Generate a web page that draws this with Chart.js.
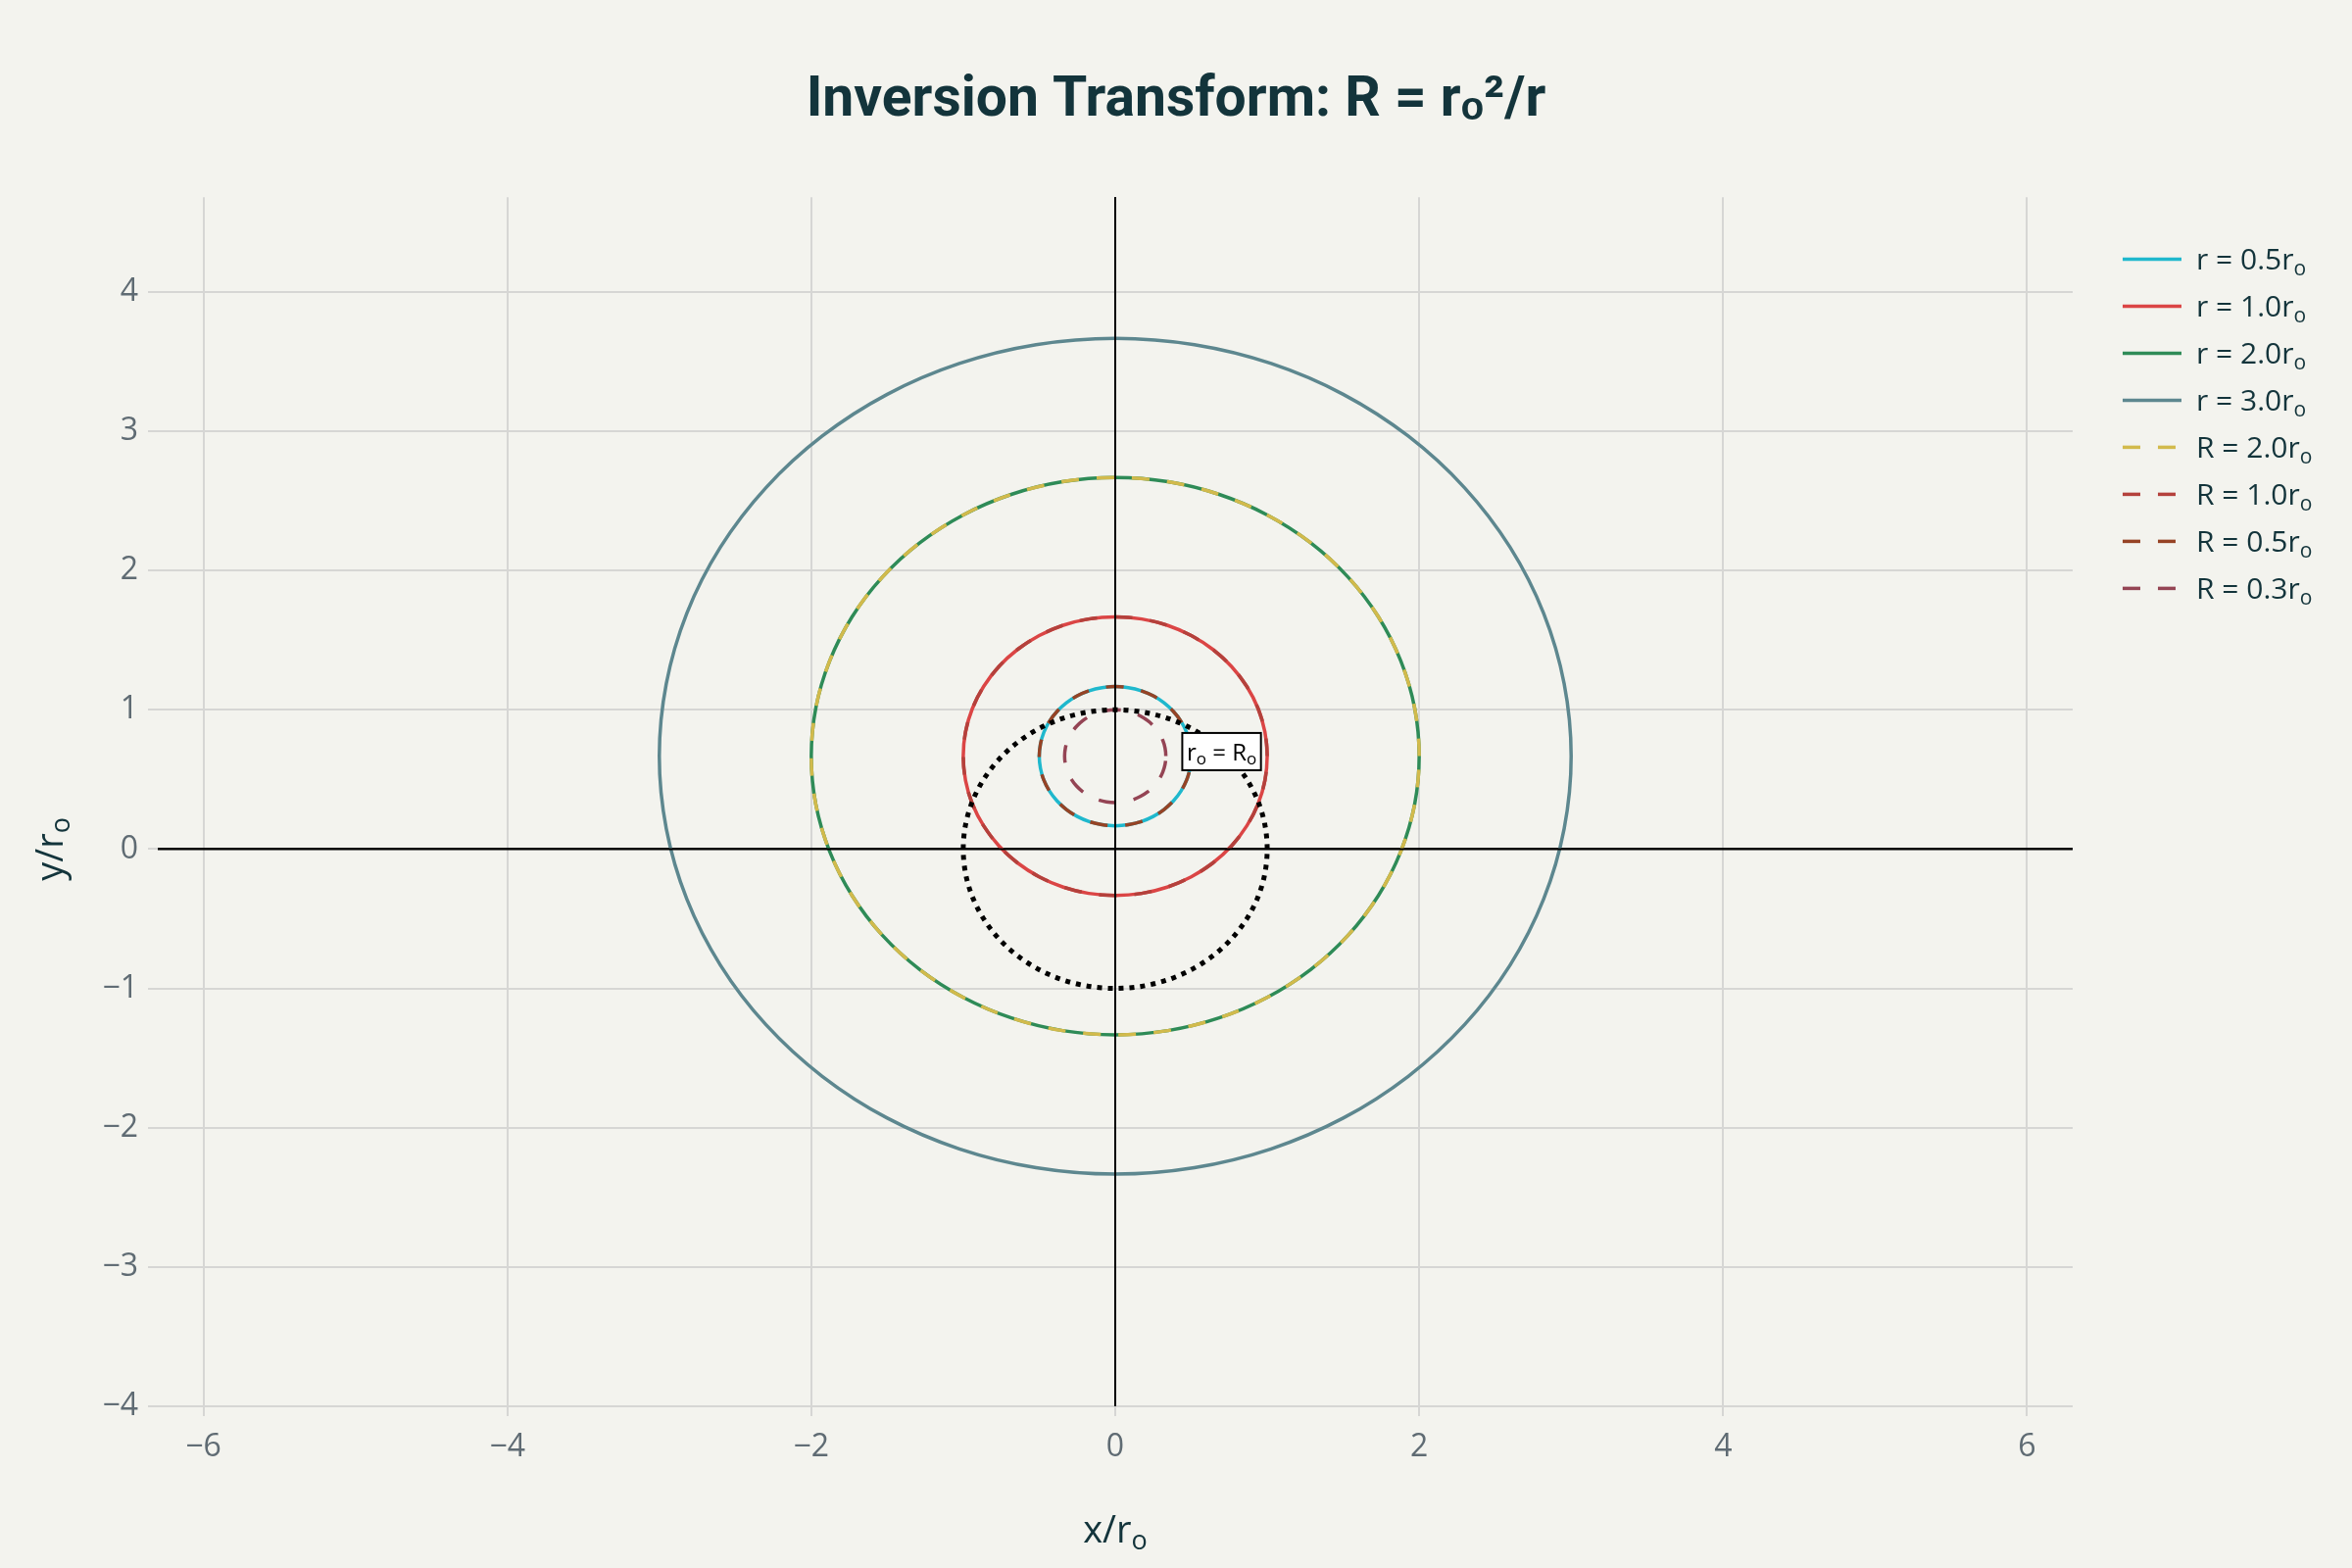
<!DOCTYPE html>
<html>
<head>
<meta charset="utf-8">
<title>Inversion Transform</title>
<script src="https://cdn.jsdelivr.net/npm/chart.js@4.4.1/dist/chart.umd.min.js"></script>
<style>
  html, body { margin: 0; padding: 0; background: #F3F3EE; }
  #wrap { width: 2400px; height: 1600px; }
</style>
</head>
<body>
<div id="wrap"><canvas id="inv"></canvas></div>
<script>
// circle outlines, one point every 10 degrees from the right-most point
// (each outline is closed by the line itself, so the first point is not repeated)
const r05X = [0.5, 0.492, 0.47, 0.433, 0.383, 0.321, 0.25, 0.171, 0.087, 0, -0.087, -0.171, -0.25, -0.321, -0.383, -0.433, -0.47, -0.492, -0.5, -0.492, -0.47, -0.433, -0.383, -0.321, -0.25, -0.171, -0.087, 0, 0.087, 0.171, 0.25, 0.321, 0.383, 0.433, 0.47, 0.492];
const r05Y = [0.667, 0.754, 0.838, 0.917, 0.988, 1.05, 1.1, 1.137, 1.159, 1.167, 1.159, 1.137, 1.1, 1.05, 0.988, 0.917, 0.838, 0.754, 0.667, 0.58, 0.496, 0.417, 0.346, 0.284, 0.234, 0.197, 0.175, 0.167, 0.175, 0.197, 0.234, 0.284, 0.346, 0.417, 0.496, 0.58];

const r10X = [1, 0.985, 0.94, 0.866, 0.766, 0.643, 0.5, 0.342, 0.174, 0, -0.174, -0.342, -0.5, -0.643, -0.766, -0.866, -0.94, -0.985, -1, -0.985, -0.94, -0.866, -0.766, -0.643, -0.5, -0.342, -0.174, 0, 0.174, 0.342, 0.5, 0.643, 0.766, 0.866, 0.94, 0.985];
const r10Y = [0.667, 0.841, 1.009, 1.167, 1.31, 1.433, 1.533, 1.607, 1.652, 1.667, 1.652, 1.607, 1.533, 1.433, 1.31, 1.167, 1.009, 0.841, 0.667, 0.493, 0.325, 0.167, 0.024, -0.099, -0.199, -0.273, -0.318, -0.333, -0.318, -0.273, -0.199, -0.099, 0.024, 0.167, 0.325, 0.493];

const r20X = [2, 1.97, 1.879, 1.732, 1.532, 1.286, 1, 0.684, 0.347, 0, -0.347, -0.684, -1, -1.286, -1.532, -1.732, -1.879, -1.97, -2, -1.97, -1.879, -1.732, -1.532, -1.286, -1, -0.684, -0.347, 0, 0.347, 0.684, 1, 1.286, 1.532, 1.732, 1.879, 1.97];
const r20Y = [0.667, 1.014, 1.351, 1.667, 1.953, 2.199, 2.399, 2.546, 2.637, 2.667, 2.637, 2.546, 2.399, 2.199, 1.953, 1.667, 1.351, 1.014, 0.667, 0.32, -0.017, -0.333, -0.619, -0.865, -1.065, -1.212, -1.303, -1.333, -1.303, -1.212, -1.065, -0.865, -0.619, -0.333, -0.017, 0.32];

const r30X = [3, 2.954, 2.819, 2.598, 2.298, 1.928, 1.5, 1.026, 0.521, 0, -0.521, -1.026, -1.5, -1.928, -2.298, -2.598, -2.819, -2.954, -3, -2.954, -2.819, -2.598, -2.298, -1.928, -1.5, -1.026, -0.521, 0, 0.521, 1.026, 1.5, 1.928, 2.298, 2.598, 2.819, 2.954];
const r30Y = [0.667, 1.188, 1.693, 2.167, 2.595, 2.965, 3.265, 3.486, 3.621, 3.667, 3.621, 3.486, 3.265, 2.965, 2.595, 2.167, 1.693, 1.188, 0.667, 0.146, -0.359, -0.833, -1.261, -1.631, -1.931, -2.152, -2.287, -2.333, -2.287, -2.152, -1.931, -1.631, -1.261, -0.833, -0.359, 0.146];

// the R = 2.0, 1.0 and 0.5 dashed curves lie exactly on the r = 2.0, 1.0, 0.5 circles
const R20X = r20X, R20Y = r20Y;
const R10X = r10X, R10Y = r10Y;
const R05X = r05X, R05Y = r05Y;

const R03X = [0.333, 0.328, 0.313, 0.288, 0.255, 0.214, 0.167, 0.114, 0.058, 0, -0.058, -0.114, -0.167, -0.214, -0.255, -0.288, -0.313, -0.328, -0.333, -0.328, -0.313, -0.288, -0.255, -0.214, -0.167, -0.114, -0.058, 0, 0.058, 0.114, 0.167, 0.214, 0.255, 0.288, 0.313, 0.328];
const R03Y = [0.667, 0.725, 0.781, 0.834, 0.881, 0.922, 0.955, 0.98, 0.995, 1, 0.995, 0.98, 0.955, 0.922, 0.881, 0.834, 0.781, 0.725, 0.667, 0.609, 0.553, 0.5, 0.453, 0.412, 0.379, 0.354, 0.339, 0.334, 0.339, 0.354, 0.379, 0.412, 0.453, 0.5, 0.553, 0.609];

// dotted unit circle r = ro
const unitX = [1, 0.985, 0.94, 0.866, 0.766, 0.643, 0.5, 0.342, 0.174, 0, -0.174, -0.342, -0.5, -0.643, -0.766, -0.866, -0.94, -0.985, -1, -0.985, -0.94, -0.866, -0.766, -0.643, -0.5, -0.342, -0.174, 0, 0.174, 0.342, 0.5, 0.643, 0.766, 0.866, 0.94, 0.985];
const unitY = [0, 0.174, 0.342, 0.5, 0.643, 0.766, 0.866, 0.94, 0.985, 1, 0.985, 0.94, 0.866, 0.766, 0.643, 0.5, 0.342, 0.174, 0, -0.174, -0.342, -0.5, -0.643, -0.766, -0.866, -0.94, -0.985, -1, -0.985, -0.94, -0.866, -0.766, -0.643, -0.5, -0.342, -0.174];

const seriesLabels = ['r = 0.5rₒ', 'r = 1.0rₒ', 'r = 2.0rₒ', 'r = 3.0rₒ', 'R = 2.0rₒ', 'R = 1.0rₒ', 'R = 0.5rₒ', 'R = 0.3rₒ', ''];
const seriesX = [r05X, r10X, r20X, r30X, R20X, R10X, R05X, R03X, unitX];
const seriesY = [r05Y, r10Y, r20Y, r30Y, R20Y, R10Y, R05Y, R03Y, unitY];
const colors = ['#1FB8CD', '#DB4545', '#2E8B57', '#5D878F', '#D2BA4C', '#B4413C', '#964325', '#944454', '#000000'];
const dashes = [[], [], [], [], [18, 18], [18, 18], [18, 18], [18, 18], [5, 6]];
const widths = [3.5, 3.5, 3.5, 3.5, 3.5, 3.5, 3.5, 3.5, 5];

const xTicks = [-6, -4, -2, 0, 2, 4, 6];
const yTicks = [-4, -3, -2, -1, 0, 1, 2, 3, 4];

// label "ro = Ro" sits on the unit circle
const annText = 'rₒ = Rₒ';
const annX = 0.7, annY = 0.7;

const baseFont = '"Open Sans", "Liberation Sans", Arial, sans-serif';
const textColor = '#13343B';
Chart.defaults.font.family = baseFont;

const datasets = seriesLabels.map((lab, i) => ({
    label: lab,
    data: seriesX[i].map((x, j) => ({ x: x, y: seriesY[i][j] })),
    showLine: true,
    tension: 0.33,
    borderColor: colors[i],
    backgroundColor: colors[i],
    borderWidth: widths[i],
    borderDash: dashes[i],
    pointRadius: 0,
    fill: false,
    order: seriesLabels.length - i   // later traces on top, as in the original
}));

const gridColor = '#D6D6D4';
const minus = v => String(v).replace('-', '\u2212');

// "rₒ" style strings -> pieces with a real, larger subscript
function splitSub(s) {
    const parts = [];
    s.split('ₒ').forEach((piece, i) => {
        if (i > 0) parts.push(['o', true]);
        if (piece) parts.push([piece, false]);
    });
    return parts;
}

function subText(c, s, size, color, align) {
    const parts = splitSub(s);
    const subSize = Math.round(size * 0.7);
    let total = 0;
    const ws = parts.map(p => {
        c.font = (p[1] ? subSize : size) + 'px ' + baseFont;
        const w = c.measureText(p[0]).width;
        total += w;
        return w;
    });
    let x = align === 'left' ? 0 : -total / 2;
    c.fillStyle = color;
    c.textAlign = 'left';
    c.textBaseline = 'alphabetic';
    parts.forEach((p, i) => {
        c.font = (p[1] ? subSize : size) + 'px ' + baseFont;
        c.fillText(p[0], x, size * 0.36 + (p[1] ? size * 0.2 : 0));
        x += ws[i];
    });
    return total;
}

const overlay = {
    id: 'overlay',
    beforeDraw(chart) {
        const c = chart.ctx;
        c.save();
        c.fillStyle = '#F3F3EE';
        c.fillRect(0, 0, chart.width, chart.height);
        c.restore();
    },
    // the outlines are closed curves: let the line wrap round to its first point
    afterDatasetsUpdate(chart) {
        chart.getSortedVisibleDatasetMetas().forEach(meta => {
            const line = meta.dataset;
            if (!line) return;
            line._loop = true;
            line._fullLoop = true;
            line._segments = undefined;
            line._path = undefined;
            line._pointsUpdated = false;
        });
    },
    afterDatasetsDraw(chart) {
        const c = chart.ctx;
        const a = chart.chartArea;
        const xs = chart.scales.x, ys = chart.scales.y;
        const x0 = xs.getPixelForValue(0), y0 = ys.getPixelForValue(0);
        c.save();
        // zero lines
        c.strokeStyle = '#000';
        c.lineWidth = 2;
        c.beginPath();
        c.moveTo(x0, a.top); c.lineTo(x0, a.bottom);
        c.moveTo(a.left, y0); c.lineTo(a.right, y0);
        c.stroke();
        // annotation box
        const ax = xs.getPixelForValue(annX), ay = ys.getPixelForValue(annY);
        c.save();
        c.translate(ax, ay);
        c.globalAlpha = 0;
        const tw = subText(c, annText, 24, '#000');
        c.globalAlpha = 1;
        const w = tw + 9, h = 38;
        c.fillStyle = '#FFFFFF';
        c.fillRect(-w / 2, -h / 2, w, h);
        c.strokeStyle = '#000';
        c.lineWidth = 2;
        c.strokeRect(-w / 2, -h / 2, w, h);
        subText(c, annText, 24, '#000');
        c.restore();
        // axis titles
        c.save();
        c.translate((a.left + a.right) / 2, xs.bottom - 22.8);
        subText(c, 'x/rₒ', 38, textColor);
        c.restore();
        c.save();
        c.translate(a.left - 111, y0);
        c.rotate(-Math.PI / 2);
        subText(c, 'y/rₒ', 38, textColor);
        c.restore();
        c.restore();
    },
    // legend texts with the same subscript style
    afterDraw(chart) {
        const lg = chart.legend;
        if (!lg || !lg.legendHitBoxes) return;
        const c = chart.ctx;
        lg.legendItems.forEach((it, i) => {
            const hb = lg.legendHitBoxes[i];
            c.save();
            c.translate(hb.left + 60 + 15, hb.top + 15);
            subText(c, it.text, 30, textColor, 'left');
            c.restore();
        });
    }
};

new Chart(document.getElementById('inv'), {
    type: 'scatter',
    data: { datasets: datasets },
    options: {
        responsive: true,
        maintainAspectRatio: false,
        animation: false,
        devicePixelRatio: 1,
        layout: { padding: { left: 32, right: 32, top: 0, bottom: 17 } },
        scales: {
            x: {
                type: 'linear',
                min: -6.3,
                max: 6.3,
                afterBuildTicks: s => { s.ticks = xTicks.map(v => ({ value: v })); },
                ticks: { callback: minus, color: '#5F6B73', font: { size: 32 }, padding: 13, maxRotation: 0, autoSkip: false },
                grid: {
                    color: c => (c.tick && c.tick.value === 0) ? '#000000' : gridColor,
                    lineWidth: 2,
                    tickLength: 10,
                    tickColor: gridColor
                },
                border: { display: false },
                // keeps room for the title, which is drawn with a real subscript in the plugin
                title: { display: true, text: 'x/rₒ', color: 'rgba(0,0,0,0)', font: { size: 38 }, padding: { top: 28, bottom: 0 } }
            },
            y: {
                type: 'linear',
                min: -4,
                max: 4.68,
                afterBuildTicks: s => { s.ticks = yTicks.map(v => ({ value: v })); },
                afterFit: s => { s.width = 129; },
                ticks: { callback: minus, color: '#5F6B73', font: { size: 32 }, padding: 10, autoSkip: false },
                grid: {
                    color: c => (c.tick && c.tick.value === 0) ? '#000000' : gridColor,
                    lineWidth: 2,
                    tickLength: 10,
                    tickColor: gridColor
                },
                border: { display: false }
            },
            // empty spacer between plot and legend
            gap: {
                type: 'linear',
                position: 'right',
                display: true,
                ticks: { display: false },
                grid: { display: false },
                border: { display: false },
                afterFit: s => { s.width = 33; }
            }
        },
        plugins: {
            title: {
                display: true,
                text: 'Inversion Transform: R = rₒ²/r',
                color: textColor,
                font: { family: 'Roboto, "Liberation Sans", sans-serif', size: 57, weight: 'bold' },
                padding: { top: 70, bottom: 62.8 }
            },
            legend: {
                position: 'right',
                align: 'start',
                fullSize: false,
                title: { display: true, text: '', font: { size: 1 }, padding: { top: 0, bottom: 29 } },
                labels: {
                    usePointStyle: true,
                    pointStyle: 'line',
                    pointStyleWidth: 60,
                    color: 'rgba(0,0,0,0)',
                    font: { size: 30 },
                    padding: 18,
                    filter: item => item.text !== '',
                    sort: (a, b) => a.datasetIndex - b.datasetIndex,
                    generateLabels: chart => {
                        const items = Chart.defaults.plugins.legend.labels.generateLabels(chart);
                        return items.map(it => {
                            const ds = chart.data.datasets[it.datasetIndex];
                            it.lineWidth = ds.borderWidth;
                            it.lineDash = ds.borderDash;
                            it.strokeStyle = ds.borderColor;
                            it.pointStyle = 'line';
                            return it;
                        });
                    }
                }
            },
            tooltip: { enabled: false }
        }
    },
    plugins: [overlay]
});
</script>
</body>
</html>
